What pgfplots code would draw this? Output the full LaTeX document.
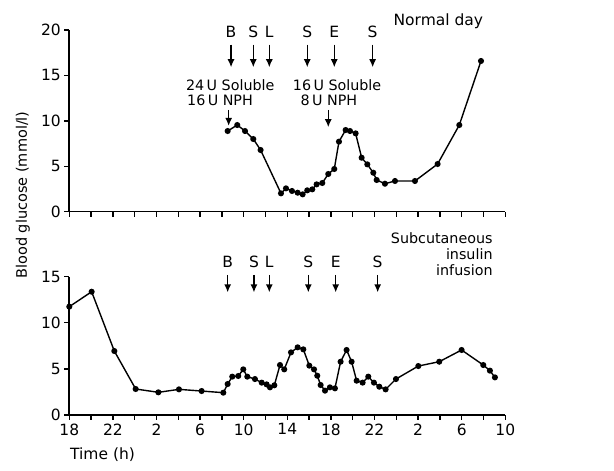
\documentclass[border=0pt]{standalone}
\usepackage{fontspec}
\setmainfont{DejaVu Sans}
\usepackage{pgfplots}
\usepackage{pgfplotstable}
\pgfplotsset{compat=1.18}
\usetikzlibrary{arrows.meta}

% time in hours after 18:00 of day 1
\pgfplotstableread{
t v
14.53 8.88
15.41 9.54
16.12 8.88
16.88 8.00
17.55 6.79
19.42 2.02
19.88 2.57
20.43 2.28
20.95 2.09
21.41 1.91
21.83 2.35
22.29 2.46
22.69 3.01
23.21 3.16
23.76 4.15
24.31 4.70
24.74 7.71
25.35 8.99
25.75 8.88
26.27 8.62
26.82 5.94
27.34 5.21
27.89 4.29
28.20 3.49
28.96 3.08
29.88 3.38
31.71 3.38
33.79 5.25
35.78 9.54
37.77 16.59
}\normaldata

\pgfplotstableread{
t v
0.00 11.75
2.05 13.37
4.13 6.94
6.09 2.82
8.17 2.46
10.06 2.78
12.14 2.60
14.13 2.42
14.53 3.36
14.95 4.16
15.50 4.23
15.96 4.95
16.33 4.16
17.03 3.90
17.65 3.51
18.10 3.32
18.41 3.00
18.81 3.22
19.33 5.42
19.72 4.95
20.34 6.79
20.95 7.34
21.47 7.12
22.02 5.35
22.45 4.95
22.75 4.26
23.06 3.25
23.46 2.64
23.91 3.00
24.37 2.89
24.89 5.78
25.44 7.05
25.90 5.78
26.36 3.72
26.91 3.51
27.43 4.16
27.95 3.51
28.44 3.07
29.02 2.78
29.97 3.90
32.02 5.31
33.94 5.78
35.99 7.05
37.98 5.42
38.59 4.81
39.05 4.08
}\infusiondata

\newcommand{\fs}{\fontsize{15.5}{18}\selectfont}
\newcommand{\fa}{\fontsize{14.3}{16}\selectfont}

\tikzset{
  glucline/.style={black, line width=1.4pt, mark=*, mark size=2.3pt},
  mealarrow/.style={-{Latex[length=8pt,width=7pt]}, line width=1.3pt},
}

\pgfplotsset{
  gluc/.style={
    scale only axis, width=436pt,
    xmin=0, xmax=40, ymin=0,
    axis x line*=bottom, axis y line*=left,
    axis line style={line width=1.6pt,-},
    xtick pos=bottom, ytick pos=left,
    tick align=outside, major tick length=5pt,
    tick style={line width=1.4pt, black},
    xtick={0,2,...,40},
    clip=false,
    font=\fs,
    tick label style={font=\fs},
    /pgf/number format/assume math mode=true,
  },
}

\begin{document}
\begin{tikzpicture}
\useasboundingbox (-69.3pt,-56pt) rectangle (544.7pt,415pt);

% ---------- bottom panel ----------
\begin{axis}[gluc, at={(0pt,0pt)}, anchor=south west,
  height=138.3pt, ymax=15, ytick={0,5,10,15},
  xticklabels={18,,22,,2,,6,,10,,14,,18,,22,,2,,6,,10},
]
\addplot[glucline] table[x=t,y=v] {\infusiondata};
\foreach \x/\l in {14.53/B,16.94/S,18.35/L,21.93/S,24.44/E,28.29/S}{
  \edef\tmp{\noexpand\node[font=\noexpand\fs] at (axis cs:\x,16.56) {\l};
  \noexpand\draw[mealarrow] (axis cs:\x,15.2) -- (axis cs:\x,13.3);}
  \tmp
}
\node[font=\fa, align=right, anchor=north east, inner sep=0pt] at (axis cs:38.85,19.8)
  {Subcutaneous\\insulin\\infusion};
\node[font=\fs] at (axis cs:3.05,-4.34) {Time (h)};
\end{axis}

% ---------- top panel ----------
\begin{axis}[gluc, at={(0pt,203.3pt)}, anchor=south west,
  height=181.7pt, ymax=20, ytick={0,5,10,15,20},
  xticklabels={},
]
\addplot[glucline] table[x=t,y=v] {\normaldata};
\foreach \x/\l in {14.84/B,16.88/S,18.35/L,21.83/S,24.31/E,27.83/S}{
  \edef\tmp{\noexpand\node[font=\noexpand\fs] at (axis cs:\x,19.76) {\l};
  \noexpand\draw[mealarrow] (axis cs:\x,18.4) -- (axis cs:\x,15.9);}
  \tmp
}
\node[font=\fa, anchor=west, inner sep=0pt] at (axis cs:10.7,13.95) {24\,U Soluble};
\node[font=\fa, anchor=west, inner sep=0pt] at (axis cs:10.8,12.3) {16\,U NPH};
\node[font=\fa, anchor=west, inner sep=0pt] at (axis cs:20.5,13.95) {16\,U Soluble};
\node[font=\fa, anchor=west, inner sep=0pt] at (axis cs:21.2,12.3) {8\,U NPH};
\draw[mealarrow] (axis cs:14.62,11.2) -- (axis cs:14.62,9.45);
\draw[mealarrow] (axis cs:23.76,11.2) -- (axis cs:23.76,9.3);
\node[font=\fs, anchor=east, inner sep=0pt] at (axis cs:37.98,20.93) {Normal day};
\end{axis}

\node[rotate=90, font=\fontsize{14.5}{17}\selectfont] at (-46.3pt,220pt) {Blood glucose (mmol/l)};
\end{tikzpicture}
\end{document}
